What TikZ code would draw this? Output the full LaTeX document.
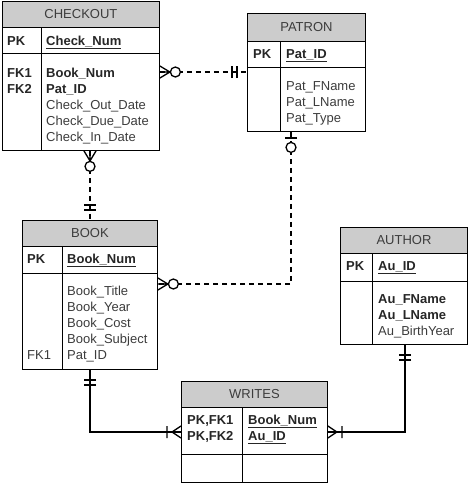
\documentclass[tikz,border=0pt]{standalone}
\usepackage{fontspec}
\setmainfont{Liberation Sans}
\usetikzlibrary{calc}
\definecolor{headgrey}{RGB}{204,204,204}
\definecolor{textgrey}{RGB}{60,60,60}
\newcommand{\fieldfont}{\fontsize{13}{16}\selectfont}
\tikzset{tblbox/.style={draw, line width=0.9pt, anchor=north west, inner sep=0pt}}
\tikzset{tblhead/.style={tblbox, fill=headgrey, text=textgrey, font=\fieldfont}}
\tikzset{field/.style={anchor=base west, inner sep=0pt, text=textgrey, font=\fieldfont}}
\tikzset{keyfield/.style={field, text=black!85, font=\fieldfont\bfseries}}
\tikzset{rel/.style={line width=1.4pt}}
\tikzset{dashrel/.style={line width=1.3pt, dash pattern=on 5pt off 4pt}}
\tikzset{ermark/.style={line width=1.3pt, solid}}
% crow's foot ends, x axis points away from the table
\tikzset{zeromany/.pic={\draw[ermark] (0,-6) -- (10,0) -- (0,6) (0,0) -- (10,0); \draw[ermark, fill=white] (15.5,0) circle[radius=5];}}
\tikzset{zeroone/.pic={\draw[ermark] (6,-6) -- (6,6); \draw[ermark, fill=white] (15.5,0) circle[radius=5];}}
\tikzset{onlyone/.pic={\draw[ermark] (10,-6) -- (10,6) (15,-6) -- (15,6);}}
\tikzset{onemany/.pic={\draw[ermark] (0,-6) -- (9,0) -- (0,6) (0,0) -- (9,0) (14,-6) -- (14,6);}}

\begin{document}
\begin{tikzpicture}[x=1pt, y=-1pt]
\useasboundingbox (0,0) rectangle (469,483);

% CHECKOUT
\node[tblbox, minimum width=157, minimum height=149] (checkout) at (2,1) {};
\node[tblhead, minimum width=157, minimum height=26] (checkout-head) at (2,1) {CHECKOUT};
\draw[line width=0.9pt] (checkout.west |- 0,53) -- (checkout.east |- 0,53);
\draw[line width=0.9pt] (checkout-head.south -| 41,0) -- (checkout.south -| 41,0);
\node[keyfield] (checkout-pk) at (7,45.5) {PK};
\node[keyfield] (checkout-num) at (46,45.5) {\underline{Check\_Num}};
\node[keyfield] (checkout-fk1) at (7,77) {FK1};
\node[keyfield] (checkout-fk2) at (7,93) {FK2};
\node[keyfield] (checkout-book) at (46,77) {Book\_Num};
\node[keyfield] (checkout-pat) at (46,93) {Pat\_ID};
\node[field] (checkout-out) at (46,109) {Check\_Out\_Date};
\node[field] (checkout-due) at (46,125) {Check\_Due\_Date};
\node[field] (checkout-in) at (46,141) {Check\_In\_Date};

% PATRON
\node[tblbox, minimum width=118, minimum height=118] (patron) at (247,13) {};
\node[tblhead, minimum width=118, minimum height=28] (patron-head) at (247,13) {PATRON};
\draw[line width=0.9pt] (patron.west |- 0,67) -- (patron.east |- 0,67);
\draw[line width=0.9pt] (patron-head.south -| 280,0) -- (patron.south -| 280,0);
\node[keyfield] (patron-pk) at (253,58) {PK};
\node[keyfield] (patron-id) at (286,58) {\underline{Pat\_ID}};
\node[field] (patron-fname) at (286,90) {Pat\_FName};
\node[field] (patron-lname) at (286,106) {Pat\_LName};
\node[field] (patron-type) at (286,122) {Pat\_Type};

% BOOK
\node[tblbox, minimum width=135, minimum height=149] (book) at (22,220) {};
\node[tblhead, minimum width=135, minimum height=26] (book-head) at (22,220) {BOOK};
\draw[line width=0.9pt] (book.west |- 0,273) -- (book.east |- 0,273);
\draw[line width=0.9pt] (book-head.south -| 62,0) -- (book.south -| 62,0);
\node[keyfield] (book-pk) at (27,263.5) {PK};
\node[keyfield] (book-num) at (67,263.5) {\underline{Book\_Num}};
\node[field] (book-title) at (67,295.5) {Book\_Title};
\node[field] (book-year) at (67,311.5) {Book\_Year};
\node[field] (book-cost) at (67,327.5) {Book\_Cost};
\node[field] (book-subject) at (67,343.5) {Book\_Subject};
\node[field] (book-fk1) at (27,359.5) {FK1};
\node[field] (book-pat) at (67,359.5) {Pat\_ID};

% AUTHOR
\node[tblbox, minimum width=127, minimum height=117] (author) at (340,227) {};
\node[tblhead, minimum width=127, minimum height=26] (author-head) at (340,227) {AUTHOR};
\draw[line width=0.9pt] (author.west |- 0,281) -- (author.east |- 0,281);
\draw[line width=0.9pt] (author-head.south -| 372,0) -- (author.south -| 372,0);
\node[keyfield] (author-pk) at (346,270) {PK};
\node[keyfield] (author-id) at (378,270) {\underline{Au\_ID}};
\node[keyfield] (author-fname) at (378,303.5) {Au\_FName};
\node[keyfield] (author-lname) at (378,319.5) {Au\_LName};
\node[field] (author-birth) at (378,335) {Au\_BirthYear};

% WRITES
\node[tblbox, minimum width=146, minimum height=101] (writes) at (181,381) {};
\node[tblhead, minimum width=146, minimum height=26] (writes-head) at (181,381) {WRITES};
\draw[line width=0.9pt] (writes.west |- 0,454) -- (writes.east |- 0,454);
\draw[line width=0.9pt] (writes-head.south -| 242,0) -- (writes.south -| 242,0);
\node[keyfield] (writes-pk1) at (187,424.5) {PK,FK1};
\node[keyfield] (writes-pk2) at (187,440.5) {PK,FK2};
\node[keyfield] (writes-book) at (248,424.5) {\underline{Book\_Num}};
\node[keyfield] (writes-au) at (248,440.5) {\underline{Au\_ID}};

% relationships
\draw[dashrel] (checkout.east |- 0,72) -- (patron.west |- 0,72);
\pic at (checkout.east |- 0,72) {zeromany};
\pic[rotate=180] at (patron.west |- 0,72) {onlyone};

\draw[dashrel] (checkout.south -| 90,0) -- (book.north -| 90,0);
\pic[rotate=-90] at (checkout.south -| 90,0) {zeromany};
\pic[rotate=90] at (book.north -| 90,0) {onlyone};

\draw[dashrel] (patron.south -| 291,0) |- (book.east |- 0,284);
\pic[rotate=-90] at (patron.south -| 291,0) {zeroone};
\pic at (book.east |- 0,284) {zeromany};

\draw[rel] (book.south -| 90,0) |- (writes.west |- 0,432);
\pic[rotate=-90] at (book.south -| 90,0) {onlyone};
\pic[rotate=180] at (writes.west |- 0,432) {onemany};

\draw[rel] (author.south -| 405,0) |- (writes.east |- 0,432);
\pic[rotate=-90] at (author.south -| 405,0) {onlyone};
\pic at (writes.east |- 0,432) {onemany};
\end{tikzpicture}
\end{document}
